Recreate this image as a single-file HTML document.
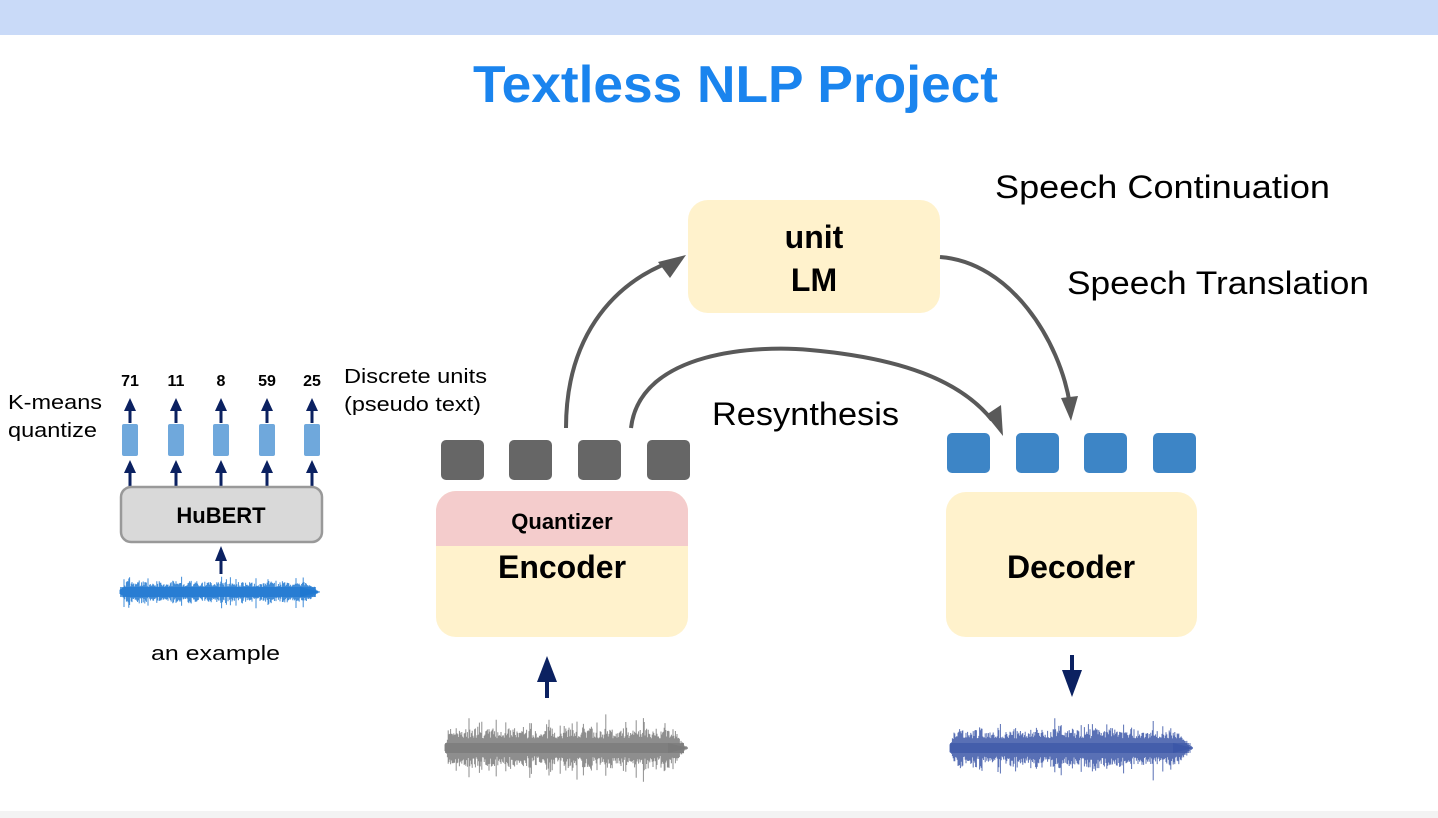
<!DOCTYPE html>
<html><head><meta charset="utf-8"><style>
body{margin:0;width:1438px;height:818px;overflow:hidden;background:#fff;font-family:"Liberation Sans",sans-serif}
svg{display:block}
</style></head><body>
<svg id="s" width="1438" height="818" viewBox="0 0 1438 818" xmlns="http://www.w3.org/2000/svg" font-family="Liberation Sans, sans-serif">
<rect x="0" y="0" width="1438" height="35" fill="#c9daf8"/>
<rect x="0" y="811" width="1438" height="7" fill="#f3f3f3"/>
<text x="473" y="102" textLength="525" lengthAdjust="spacingAndGlyphs" font-size="52" font-weight="bold" fill="#1a84ee">Textless NLP Project</text>

<rect x="688" y="200" width="252" height="113" rx="20" fill="#fff2cc"/>
<text x="814" y="248" text-anchor="middle" font-size="32" font-weight="bold">unit</text>
<text x="814" y="291" text-anchor="middle" font-size="32" font-weight="bold">LM</text>

<g fill="none" stroke="#595959" stroke-width="4">
<path d="M566,428 C566,340 610,285 670,262"/>
<path d="M631,428 C640,350 760,345 810,350 C900,358 960,380 992,420"/>
<path d="M940,257 C1010,262 1060,340 1070,405"/>
</g>
<path d="M686,255 L658,262 L670,278 z" fill="#595959"/>
<path d="M1003,436 L986,415 L1001,405 z" fill="#595959"/>
<path d="M1071,421 L1061,398 L1078,396 z" fill="#595959"/>

<text x="995" y="198" textLength="335" lengthAdjust="spacingAndGlyphs" font-size="32">Speech Continuation</text>
<text x="1067" y="294" textLength="302" lengthAdjust="spacingAndGlyphs" font-size="32">Speech Translation</text>
<text x="712" y="425" textLength="187" lengthAdjust="spacingAndGlyphs" font-size="32">Resynthesis</text>

<g fill="#666">
<rect x="441" y="440" width="43" height="40" rx="5"/>
<rect x="509" y="440" width="43" height="40" rx="5"/>
<rect x="578" y="440" width="43" height="40" rx="5"/>
<rect x="647" y="440" width="43" height="40" rx="5"/>
</g>
<g fill="#3d85c6">
<rect x="947" y="433" width="43" height="40" rx="5"/>
<rect x="1016" y="433" width="43" height="40" rx="5"/>
<rect x="1084" y="433" width="43" height="40" rx="5"/>
<rect x="1153" y="433" width="43" height="40" rx="5"/>
</g>

<rect x="436" y="491" width="252" height="146" rx="20" fill="#fff2cc"/>
<path d="M436,511 a20,20 0 0 1 20,-20 h212 a20,20 0 0 1 20,20 v35 h-252 z" fill="#f4cccc"/>
<text x="562" y="529" text-anchor="middle" font-size="22" font-weight="bold">Quantizer</text>
<text x="562" y="578" text-anchor="middle" font-size="32" font-weight="bold">Encoder</text>

<rect x="946" y="492" width="251" height="145" rx="20" fill="#fff2cc"/>
<text x="1071" y="578" text-anchor="middle" font-size="32" font-weight="bold">Decoder</text>

<g fill="#0b2161">
<rect x="545" y="680" width="4" height="18"/><path d="M537,682 L547,656 L557,682 z"/>
<rect x="1070" y="655" width="4" height="18"/><path d="M1062,670 L1072,697 L1082,670 z"/>
</g>

<g id="w1"></g><g id="w2"></g><g id="w3"></g>

<text x="8" y="409" textLength="94" lengthAdjust="spacingAndGlyphs" font-size="20">K-means</text>
<text x="8" y="437" textLength="89" lengthAdjust="spacingAndGlyphs" font-size="20">quantize</text>
<text x="344" y="383" textLength="143" lengthAdjust="spacingAndGlyphs" font-size="20">Discrete units</text>
<text x="344" y="411" textLength="137" lengthAdjust="spacingAndGlyphs" font-size="20">(pseudo text)</text>
<g font-size="16" font-weight="bold" text-anchor="middle">
<text x="130" y="386">71</text><text x="176" y="386">11</text><text x="221" y="386">8</text><text x="267" y="386">59</text><text x="312" y="386">25</text>
</g>
<g id="hb"></g>
<rect x="121" y="487" width="201" height="55" rx="10" fill="#d9d9d9" stroke="#999" stroke-width="2.5"/>
<text x="221" y="523" text-anchor="middle" font-size="22" font-weight="bold">HuBERT</text>
<text x="151" y="660" textLength="129" lengthAdjust="spacingAndGlyphs" font-size="20">an example</text>
</svg>
<script>
var NS="http://www.w3.org/2000/svg";
function el(p,t,a){var e=document.createElementNS(NS,t);for(var k in a)e.setAttribute(k,a[k]);p.appendChild(e);return e;}
var hb=document.getElementById("hb");
[130,176,221,267,312].forEach(function(x){
 el(hb,"rect",{x:x-8,y:424,width:16,height:32,rx:2,fill:"#6fa8dc"});
 el(hb,"rect",{x:x-1.5,y:408,width:3,height:15,fill:"#0b2161"});
 el(hb,"path",{d:"M"+(x-6)+",411 L"+x+",398 L"+(x+6)+",411 z",fill:"#0b2161"});
 el(hb,"rect",{x:x-1.5,y:470,width:3,height:16,fill:"#0b2161"});
 el(hb,"path",{d:"M"+(x-6)+",473 L"+x+",460 L"+(x+6)+",473 z",fill:"#0b2161"});
});
el(hb,"rect",{x:219.5,y:558,width:3,height:16,fill:"#0b2161"});
el(hb,"path",{d:"M215,561 L221,546 L227,561 z",fill:"#0b2161"});
var seed=7;function r(){seed=(seed*9301+49297)%233280;return seed/233280;}
function wave(id,x0,x1,cy,amp,col){
 var g=document.getElementById(id),d="";
 for(var x=x0;x<=x1;x+=0.8){var t=(x-x0)/(x1-x0);
  var burst=0.5+0.5*Math.abs(Math.sin(t*40));
  var env=(t<0.02?0.3+t*35:1)*(t>0.93?Math.max(0.05,(1-t)*14):1)*(0.3+0.35*r()*burst+(r()<0.1?0.5*r():0));
  var h=amp*env;d+="M"+x.toFixed(1)+","+(cy-h).toFixed(1)+"V"+(cy+h*(0.8+0.4*r())).toFixed(1);}
 el(g,"path",{d:d,stroke:col,"stroke-width":1,fill:"none",opacity:0.85});
 el(g,"path",{d:"M"+x0+","+cy+"L"+(x1-4)+","+cy,stroke:col,"stroke-width":10,opacity:0.7});
 el(g,"path",{d:"M"+(x1-20)+","+(cy-5)+"L"+x1+","+cy+"L"+(x1-20)+","+(cy+5)+"z",fill:col});
}
wave("w1",445,688,748,32,"#7a7a7a");
wave("w2",950,1193,748,32,"#3c57a8");
wave("w3",120,320,592,17,"#1f78d1");
</script>
</body></html>
